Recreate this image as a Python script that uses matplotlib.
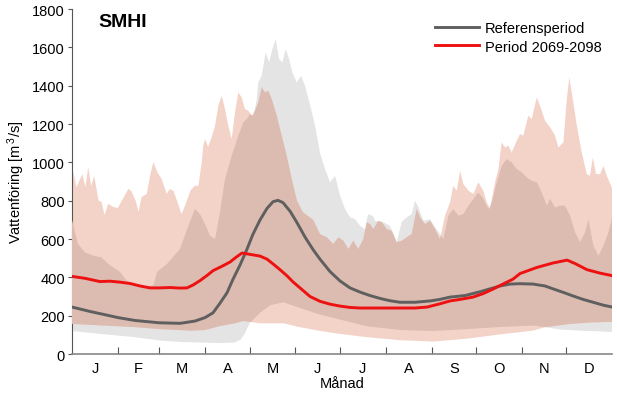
import matplotlib
matplotlib.use("Agg")
import matplotlib.pyplot as plt
import numpy as np

plt.rcParams['font.family'] = ['Liberation Sans', 'DejaVu Sans']
plt.rcParams['mathtext.default'] = 'regular'

# Månader
manader = ['J', 'F', 'M', 'A', 'M', 'J', 'J', 'A', 'S', 'O', 'N', 'D']
mangrans = [0, 31, 59, 90, 120, 151, 181, 212, 243, 273, 304, 334, 365]

# Referensperiod, max (dag, m3/s)
ref_max_dag = [0, 4, 8.8, 14.4, 20, 24.5, 32.4, 37.2, 42.6, 49.3, 55, 57.5, 64.2, 73, 78.6,
               83.1, 86.5, 89.9, 93.3, 96.7, 100, 103.4, 107.9, 112.4, 115.8, 118.1, 120.3,
               122.5, 124.8, 125.9, 128.2, 130.9, 133.2, 135.4, 137.7, 139.9, 142.2, 144.4,
               146.7, 148.9, 151.9, 154.8, 157.5, 160.9, 164.3, 167.6, 171, 174.4, 177.8,
               181.2, 184.5, 187.9, 191.3, 194.7, 198, 200.1, 203.5, 204.8, 210.2, 214.9,
               219.5, 222.8, 226.2, 229.6, 231.8, 234.1, 237.5, 242, 245.4, 248.7, 251,
               254.4, 257.7, 261.1, 264.5, 267.9, 271.3, 274.6, 278, 281.4, 283.7, 287.1,
               290.4, 293.8, 297.2, 300.6, 304, 307.3, 310.7, 314.1, 317.5, 320.9, 323.1,
               326.5, 329.9, 333.2, 336.6, 340, 343.4, 346.8, 349, 352.4, 355.8, 359.2,
               362.5, 365]
ref_max = [700, 574, 530, 513, 504, 470, 428, 381, 360, 345, 360, 428, 470, 548, 669,
           757, 730, 678, 617, 600, 739, 913, 1034, 1139, 1209, 1226, 1252,
           1243, 1322, 1417, 1452, 1574, 1522, 1591, 1643, 1539, 1522, 1591,
           1539, 1470, 1417, 1452, 1400, 1300, 1190, 1050, 965, 896, 930,
           826, 757, 713, 704, 669, 650, 730, 720, 695, 689, 669,
           583, 689, 713, 730, 800, 767, 695, 704, 661, 626, 600,
           722, 757, 722, 730, 774, 809, 843, 809, 757, 791, 896,
           982, 1017, 1000, 965, 948, 922, 904, 896, 843, 774, 809,
           765, 774, 774, 722, 635, 583, 635, 704, 565, 513, 565,
           635, 710]

# Referensperiod, min
ref_min_dag = [0, 19, 41, 60, 73, 86.5, 100, 110, 114, 117, 120, 127, 134, 143, 154, 168,
               181, 199, 222, 244, 267, 289, 312, 318, 330, 343, 357, 365]
ref_min = [120, 105, 89, 70, 63, 60, 57, 60, 75, 110, 160, 215, 255, 270, 240, 205,
           180, 145, 125, 120, 130, 141, 148, 142, 128, 122, 118, 115]

# Period 2069-2098, max
fut_max_dag = [0, 1, 3, 7, 9, 11, 13, 15, 18, 20, 22, 24.5, 28, 31, 35, 38, 40, 43, 45, 47,
               50.5, 53, 55, 57.7, 60.6, 64, 66, 68.5, 71, 74, 76.4, 80, 83, 85.4, 87.7,
               88.7, 89.9, 92, 94.4, 96.7, 98.9, 101.2, 103.4, 105.6, 107.9, 110.2, 112.4,
               114.7, 116.9, 119.2, 121.5, 123.7, 125.9, 128.2, 130.5, 132.7, 135, 138.4,
               141.7, 145.1, 148.5, 152, 156, 163, 167.6, 172.2, 176.6, 180, 183.4, 186.8,
               190.1, 193.5, 196.9, 199.2, 201.4, 203.7, 207, 209.3, 212.7, 216.1, 219.5,
               222.8, 226.2, 229.6, 233, 235.2, 238.6, 242, 245.4, 248.7, 252.1, 255.5,
               257.7, 260, 262.3, 264.5, 268, 271.3, 274.6, 278, 280.3, 282.5, 285.9,
               288.2, 290.4, 292.7, 294.9, 297.2, 300.6, 302.8, 305, 308.4, 310.7, 314.1,
               316.3, 319.7, 323.1, 326.5, 328.7, 332.1, 334.4, 336.1, 338.8, 341.2, 344.5,
               347.9, 350.1, 352, 354.2, 356.9, 359.2, 361.4, 364.8, 365]
fut_max = [900, 948, 870, 939, 871, 975, 877, 929, 800, 793, 725, 783, 767, 762, 819, 861, 852, 800, 742, 819,
           835, 939, 1002, 949, 913, 835, 861, 852, 800, 730, 774, 852, 878, 878, 1000,
           1087, 1122, 1080, 1132, 1191, 1296, 1348, 1278, 1191, 1122, 1262, 1365,
           1339, 1278, 1270, 1243, 1270, 1313, 1391, 1365, 1374, 1330, 1243,
           1139, 1034, 913, 800, 740, 700, 626, 609, 574, 609, 591, 548,
           591, 548, 600, 687, 678, 652, 695, 689, 652, 643, 583,
           591, 609, 626, 757, 713, 678, 695, 652, 600, 722, 791,
           878, 852, 956, 887, 852, 835, 896, 852, 791, 757, 896,
           965, 1104, 1078, 1087, 1052, 1113, 1148, 1139, 1243, 1226, 1339,
           1296, 1217, 1183, 1139, 1078, 1104, 1330, 1444, 1313, 1191, 1052,
           939, 930, 1026, 939, 939, 982, 930, 870, 860]

# Period 2069-2098, min
fut_min_dag = [0, 41, 59.5, 80, 90, 100, 110, 115.6, 120, 127, 143, 154, 168, 181, 199, 222,
               244, 267, 289, 311.6, 319.7, 336.6, 352, 365]
fut_min = [157, 141, 130, 122, 125, 146, 160, 172, 168, 160, 160, 140, 120, 105, 88, 72,
           65, 80, 102, 122, 140, 157, 165, 168]

# Medelvärden
ref_med_dag = [0, 12.2, 22.3, 31.1, 42.6, 58.8, 73, 83.1, 89.9, 95.3, 100, 104.8, 108.8,
               113.6, 118.3, 122.3, 127.1, 131.8, 135.9, 139.2, 142.6, 147.4, 152.1, 157.5,
               162.9, 167.6, 174.4, 181.2, 187.9, 194.7, 201.4, 208.2, 214.9, 221.7, 231.8,
               242, 248.7, 255.5, 265.6, 275.8, 282.5, 289.3, 296.1, 302.8, 311.6, 319.7,
               325.1, 331.9, 338.6, 345.4, 352.2, 359, 365]
ref_med = [245, 222, 205, 190, 175, 163, 160, 172, 190, 215, 265, 320, 390,
           465, 548, 625, 700, 760, 795, 802, 790, 745, 685, 610,
           545, 495, 430, 381, 345, 323, 305, 290, 278, 270, 270,
           277, 285, 297, 305, 325, 340, 355, 365, 367, 365, 355,
           340, 322, 303, 285, 270, 255, 245]

fut_med_dag = [0, 8.8, 18.9, 25.7, 32.4, 39.2, 46, 52.7, 59.5, 66.2, 73, 77.7, 81.8, 86.5,
               91.3, 95.3, 101.4, 106.8, 110.9, 114.9, 120.3, 127.1, 131.8, 135.9, 140.6,
               145.3, 149.4, 154.1, 160.9, 167.6, 174.4, 181.2, 187.9, 194.7, 208.2, 221.7,
               231.8, 240, 248.7, 255.5, 262.3, 271, 277.8, 284.6, 291.3, 298.1, 302.8,
               307.5, 314.3, 325.1, 334.6, 340, 348.1, 356.9, 365]
fut_med = [405, 395, 378, 380, 375, 368, 355, 345, 345, 347, 344, 345, 360, 383,
           410, 435, 458, 480, 505, 527, 520, 511, 495, 470, 440,
           408, 376, 345, 300, 275, 260, 250, 243, 240, 240, 240,
           240, 245, 262, 277, 285, 297, 315, 339, 365, 391, 420,
           433, 452, 475, 490, 472, 440, 422, 409]

fig = plt.figure(figsize=(6.17, 4.02), dpi=100)
ax = fig.add_axes([0.1167, 0.1169, 0.8753, 0.858])

# Band för referensperioden och framtiden, överlapp ritas mörkare
ref_poly = ax.fill(list(ref_max_dag) + ref_min_dag[::-1], list(ref_max) + ref_min[::-1],
                   color='#e4e4e4', lw=0, zorder=1)[0]
fut_x = list(fut_max_dag) + fut_min_dag[::-1]
fut_y = list(fut_max) + fut_min[::-1]
ax.fill(fut_x, fut_y, color='#f3d3c8', lw=0, zorder=2)
overlapp = ax.fill(fut_x, fut_y, color='#dcbbb0', lw=0, zorder=3)[0]
overlapp.set_clip_path(ref_poly)

ax.plot(ref_med_dag, ref_med, color='#5f5f5f', lw=2.1, zorder=5, label='Referensperiod')
ax.plot(fut_med_dag, fut_med, color='#ee1111', lw=2.1, zorder=6, label='Period 2069-2098')

ax.set_xlim(0, 365)
ax.set_ylim(0, 1800)
ax.set_yticks(np.arange(0, 1801, 200))
ax.set_xticks(mangrans[1:-1])
ax.set_xticklabels([])
mitt = [(a + b) / 2 for a, b in zip(mangrans[:-1], mangrans[1:])]
ax.set_xticks(mitt, minor=True)
ax.set_xticklabels(manader, minor=True)
ax.tick_params(axis='x', which='major', direction='in', length=5, color='#555555')
ax.tick_params(axis='x', which='minor', length=0, pad=5, labelsize=10.5)
ax.tick_params(axis='y', direction='out', length=3, pad=2, labelsize=10.5, color='#555555')

for s in ['top', 'right']:
    ax.spines[s].set_visible(False)
ax.spines['left'].set_color('#555555')
ax.spines['bottom'].set_color('#888888')
ax.spines['bottom'].set_linewidth(1.2)

ax.set_xlabel('Månad', fontsize=10.5, labelpad=1)
ax.set_ylabel('Vattenföring [m$^{\\,3}$/s]', fontsize=10.5, labelpad=4)

ax.text(0.049, 0.988, 'SMHI', transform=ax.transAxes, fontsize=14, fontweight='heavy',
        va='top', ha='left')

ax.legend(loc='upper left', bbox_to_anchor=(0.672, 0.965), frameon=False, fontsize=10.5,
          handlelength=3.0, handletextpad=0.4, labelspacing=0.3, borderpad=0,
          borderaxespad=0)

fig.savefig('out.png', dpi=100)
